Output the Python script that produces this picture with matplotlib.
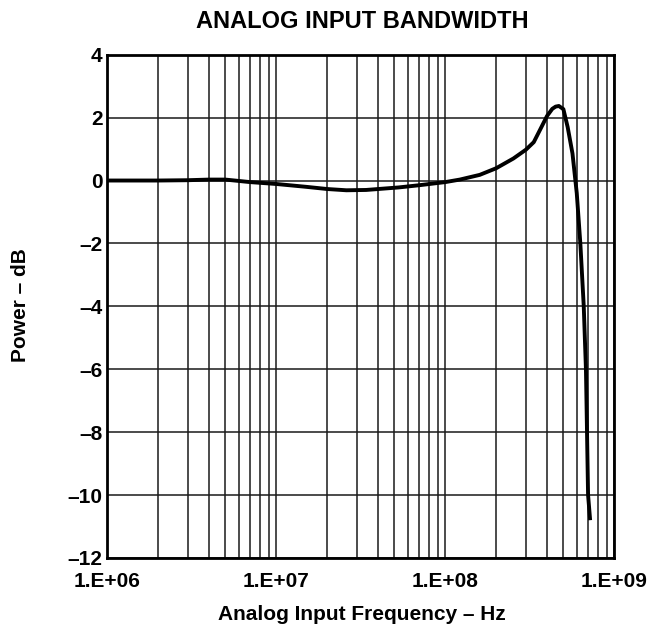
import numpy as np
import matplotlib.pyplot as plt
from matplotlib.ticker import FixedLocator, LogLocator, NullFormatter

plt.rcParams['font.family'] = ['Liberation Sans', 'DejaVu Sans']
plt.rcParams['font.weight'] = 'bold'

# values
freq_hz = [1e6, 2e6, 3e6, 4e6, 5e6, 7e6, 1e7, 1.5e7, 2e7, 2.6e7, 3.4e7, 5.3e7,
           7e7, 1e8, 1.22e8, 1.6e8, 2e8, 2.53e8, 3e8, 3.34e8, 3.66e8, 4e8, 4.3e8,
           4.5e8, 4.7e8, 5.0e8, 5.3e8, 5.66e8, 6.0e8, 6.3e8, 6.6e8, 6.8e8,
           6.9e8, 7.0e8, 7.2e8]
power_db = [0.0, 0.0, 0.01, 0.03, 0.03, -0.05, -0.11, -0.2, -0.27, -0.31, -0.30, -0.22,
            -0.15, -0.05, 0.03, 0.18, 0.39, 0.70, 0.98, 1.22, 1.64, 2.05, 2.28,
            2.35, 2.37, 2.27, 1.70, 0.86, -0.4, -2.0, -4.0, -6.0,
            -8.0, -10.0, -10.8]

x_ticks = [1e6, 1e7, 1e8, 1e9]
x_ticklabels = ["1.E+06", "1.E+07", "1.E+08", "1.E+09"]
y_ticks = [-12, -10, -8, -6, -4, -2, 0, 2, 4]
y_ticklabels = [("\u2013%d" % -v) if v < 0 else str(v) for v in y_ticks]

fig = plt.figure(figsize=(6.5, 6.29), dpi=100)
ax = fig.add_axes([0.165, 0.113, 0.78, 0.8])

ax.plot(freq_hz, power_db, color='black', lw=2.8, zorder=3,
        solid_joinstyle='round', solid_capstyle='butt')

ax.set_xscale('log')
ax.set_xlim(1e6, 1e9)
ax.set_ylim(-12, 4)
ax.xaxis.set_major_locator(FixedLocator(x_ticks))
ax.set_xticklabels(x_ticklabels)
ax.xaxis.set_minor_locator(LogLocator(base=10, subs=np.arange(2, 10)))
ax.xaxis.set_minor_formatter(NullFormatter())
ax.set_yticks(y_ticks)
ax.set_yticklabels(y_ticklabels)

ax.grid(which='major', axis='both', color='#1a1a1a', lw=1.1)
ax.grid(which='minor', axis='x', color='#1a1a1a', lw=1.1)
ax.tick_params(which='both', length=0, labelsize=15)
ax.tick_params(axis='x', pad=10)
ax.tick_params(axis='y', pad=3.5)
for lab in ax.get_xticklabels() + ax.get_yticklabels():
    lab.set_fontweight('bold')
for s in ax.spines.values():
    s.set_linewidth(2)

fig.text(0.557, 0.9555, "ANALOG INPUT BANDWIDTH", fontsize=17, fontweight='bold',
         ha='center', va='baseline')
fig.text(0.557, 0.0143, "Analog Input Frequency \u2013 Hz", fontsize=15,
         fontweight='bold', ha='center', va='baseline')
fig.text(0.032, 0.515, "Power \u2013 dB", fontsize=15, fontweight='bold',
         rotation=90, ha='center', va='center')

fig.savefig("out.png", dpi=100)
